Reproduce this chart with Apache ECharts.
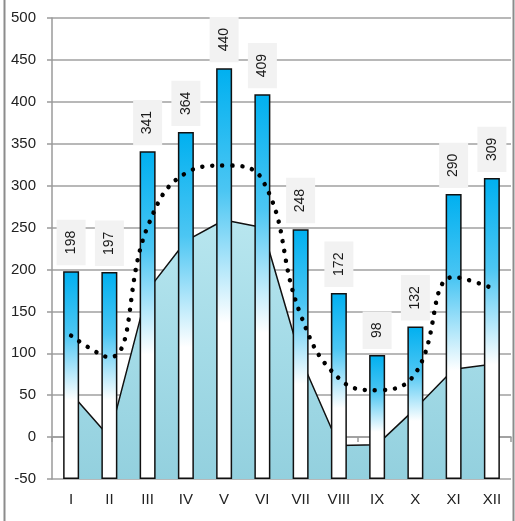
<!DOCTYPE html>
<html>
<head>
<meta charset="utf-8">
<script src="https://cdn.jsdelivr.net/npm/echarts@6/dist/echarts.min.js"></script>
<style>
  html, body { margin: 0; padding: 0; background: #fff; }
  #chart { width: 515px; height: 521px; }
</style>
</head>
<body>
<div id="chart"></div>
<script>
// ========== 数据 ==========
const months = ['I', 'II', 'III', 'IV', 'V', 'VI', 'VII', 'VIII', 'IX', 'X', 'XI', 'XII'];
const barValues = [198, 197, 341, 364, 440, 409, 248, 172, 98, 132, 290, 309];
const areaValues = [52, 0, 175, 234, 259, 250, 94, -10, -9, 34, 81, 87];
const dotValues = [121, 95, 251, 315, 324, 307, 146, 70, 56, 76, 191, 178];
const yTicks = { min: -50, max: 500, step: 50 };

const FONT = 'Liberation Sans';

// ========== 图表 ==========
const chart = echarts.init(document.getElementById('chart'));

chart.setOption({
    animation: false,
    grid: { left: 52, right: 4, top: 18, bottom: 42 },
    graphic: [{
        type: 'rect',
        shape: { x: 4.5, y: -5, width: 509, height: 535 },
        style: { fill: 'none', stroke: '#8c8c8c', lineWidth: 2 },
        silent: true
    }],
    xAxis: {
        type: 'category',
        data: months,
        axisLine: { lineStyle: { color: '#9a9a9a', width: 1.5 } },
        axisTick: { show: true, length: 5, lineStyle: { color: '#9a9a9a', width: 1.5 } },
        axisLabel: { color: '#222', fontSize: 15, fontFamily: FONT, margin: 13 }
    },
    yAxis: {
        type: 'value',
        min: yTicks.min,
        max: yTicks.max,
        interval: yTicks.step,
        startValue: yTicks.min,   // 柱子从 -50 开始
        axisLine: { show: true, lineStyle: { color: '#9a9a9a', width: 1.5 } },
        axisTick: { show: true, length: 5, lineStyle: { color: '#9a9a9a', width: 1.5 } },
        axisLabel: { color: '#222', fontSize: 15, fontFamily: FONT, margin: 16 },
        splitLine: { lineStyle: { color: '#a0a0a0', width: 1.5 } }
    },
    series: [
        {
            // 背景面积
            type: 'line',
            data: areaValues,
            symbol: 'none',
            z: 1,
            lineStyle: { color: '#111', width: 1.5 },
            areaStyle: {
                origin: 'start',
                opacity: 1,
                color: new echarts.graphic.LinearGradient(0, 0, 0, 1, [
                    { offset: 0, color: '#b8e6ef' },
                    { offset: 0.5, color: '#a4dbe7' },
                    { offset: 1, color: '#93d0de' }
                ])
            }
        },
        {
            type: 'bar',
            data: barValues,
            barWidth: 16,
            z: 2,
            itemStyle: {
                borderColor: '#111',
                borderWidth: 1.5,
                color: new echarts.graphic.LinearGradient(0, 0, 0, 1, [
                    { offset: 0, color: '#00b0f0' },
                    { offset: 0.3, color: '#4cc6f3' },
                    { offset: 0.62, color: '#ffffff' },
                    { offset: 1, color: '#ffffff' }
                ])
            },
            label: {
                show: true,
                position: 'top',
                distance: 6,
                rotate: 90,
                align: 'left',
                verticalAlign: 'middle',
                color: '#1a1a1a',
                fontSize: 14,
                fontFamily: FONT,
                lineHeight: 14,
                backgroundColor: '#f2f2f2',
                padding: [8, 11, 7, 11]
            }
        },
        {
            // 点线
            type: 'line',
            data: dotValues,
            smooth: 0.45,
            symbol: 'none',
            z: 3,
            lineStyle: { color: '#000', width: 4.5, type: [0.01, 10], cap: 'round' }
        }
    ]
});
</script>
</body>
</html>
